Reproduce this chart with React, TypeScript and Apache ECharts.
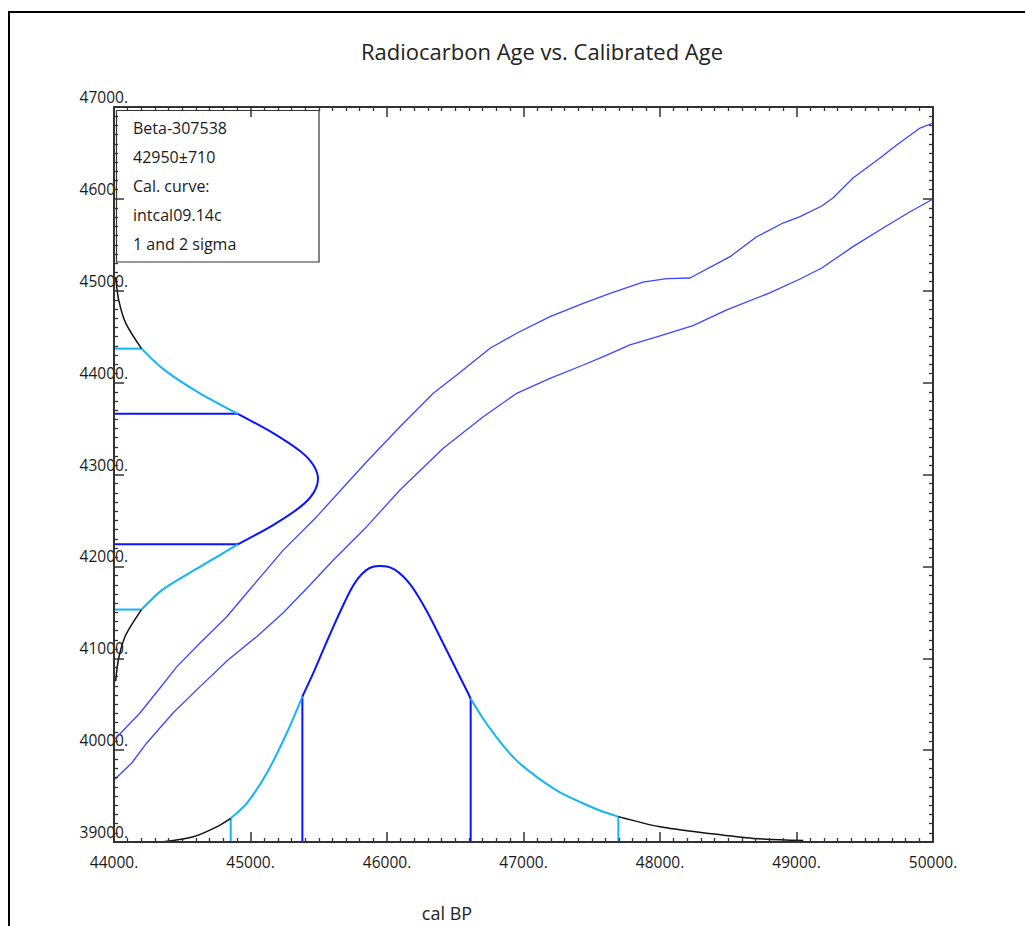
import React, { useEffect, useRef } from "react";
import * as echarts from "echarts";

// ---- axes ----
const xTicks = [44000, 45000, 46000, 47000, 48000, 49000, 50000];
const yTicks = [39000, 40000, 41000, 42000, 43000, 44000, 45000, 46000, 47000];

// ---- calibration curve (upper / lower band), cal BP vs 14C age ----
const upperCalAge = [44000, 44190, 44337, 44459, 44630, 44826, 45004, 45240, 45485, 45729, 45851, 46095, 46339, 46511, 46755, 46950, 47194, 47438, 47634, 47875, 48049, 48220, 48513, 48708, 48901, 49026, 49185, 49267, 49414, 49612, 49734, 49905, 50000];
const upperC14Age = [40110, 40404, 40676, 40906, 41166, 41452, 41765, 42177, 42541, 42940, 43139, 43520, 43884, 44083, 44374, 44537, 44718, 44863, 44972, 45095, 45131, 45139, 45371, 45588, 45737, 45806, 45922, 46010, 46227, 46445, 46586, 46771, 46826];
const lowerCalAge = [44000, 44130, 44240, 44432, 44630, 44835, 45045, 45238, 45436, 45607, 45851, 46095, 46412, 46705, 46950, 47194, 47438, 47585, 47780, 48000, 48242, 48489, 48808, 49026, 49185, 49414, 49634, 49832, 50000];
const lowerC14Age = [39675, 39860, 40078, 40404, 40691, 40981, 41235, 41493, 41797, 42070, 42432, 42831, 43285, 43629, 43884, 44047, 44192, 44282, 44410, 44508, 44620, 44791, 44979, 45128, 45248, 45480, 45683, 45860, 45999];

// ---- calibrated probability (bottom) ----
const calAge = [44361, 44581, 44752, 44855, 44972, 45119, 45265, 45380, 45458, 45531, 45604, 45678, 45736, 45788, 45846, 45897, 45949, 46000, 46059, 46117, 46176, 46234, 46293, 46352, 46410, 46469, 46527, 46586, 46613, 46696, 46777, 46864, 46952, 47048, 47158, 47267, 47414, 47560, 47695, 48000, 48342, 48684, 49050];
const calProb = [0.001, 0.019, 0.055, 0.086, 0.14, 0.249, 0.394, 0.527, 0.61, 0.694, 0.777, 0.857, 0.915, 0.955, 0.984, 0.997, 1.0, 0.998, 0.986, 0.963, 0.93, 0.886, 0.835, 0.779, 0.721, 0.663, 0.605, 0.547, 0.519, 0.453, 0.396, 0.341, 0.294, 0.254, 0.214, 0.18, 0.145, 0.114, 0.092, 0.055, 0.032, 0.013, 0.005];
const cal1Sigma = [45380, 46613];
const cal2Sigma = [44855, 47695];

// ---- radiocarbon probability (left) ----
const c14Age = [40750, 41000, 41250, 41530, 41750, 42000, 42240, 42450, 42650, 42800, 42950, 43100, 43250, 43450, 43660, 43900, 44150, 44370, 44650, 44900, 45150];
const c14Prob = [0.008, 0.023, 0.057, 0.135, 0.24, 0.425, 0.607, 0.78, 0.915, 0.978, 1.0, 0.978, 0.915, 0.78, 0.607, 0.409, 0.24, 0.135, 0.057, 0.023, 0.008];
const c14OneSigma = [42240, 43660];
const c14TwoSigma = [41530, 44370];

const legendLines = ["Beta-307538", "42950\u00b1710", "Cal. curve:", "intcal09.14c", "1 and 2 sigma"];
const titleText = "Radiocarbon Age vs. Calibrated Age";
const xAxisName = "cal BP";

const BLUE = "#0a14ff";
const CYAN = "#14b4f5";
const CURVE = "#3c46ff";
const FONT = "'Open Sans', 'Noto Sans', sans-serif";

function pairs(a: number[], b: number[]) {
  return a.map((v, i) => [v, b[i]]);
}
function seg(xs: number[], ps: number[], lo: number, hi: number, swap: boolean) {
  const out: number[][] = [];
  xs.forEach((x, i) => {
    if (x >= lo && x <= hi) out.push(swap ? [ps[i], x] : [x, ps[i]]);
  });
  return out;
}
function probAt(xs: number[], ps: number[], x: number) {
  const i = xs.indexOf(x);
  return i >= 0 ? ps[i] : 0;
}

export default function App() {
  const ref = useRef<HTMLDivElement>(null);
  useEffect(() => {
    if (!ref.current) return;
    const chart = echarts.init(ref.current, undefined, { renderer: "svg" });
    const axisLine = { show: true, onZero: false, lineStyle: { color: "#333", width: 2 } };
    const axisTick = { show: true, inside: true, length: 10, lineStyle: { color: "#333", width: 1.5 } };
    const minorTick = { show: true, splitNumber: 10, length: 4, lineStyle: { color: "#333", width: 1.3 } };
    const noLine = { show: false };
    const labelStyle = { fontFamily: FONT, fontSize: 15.5, color: "#1a1a1a" };
    const xr = { min: xTicks[0], max: xTicks[xTicks.length - 1], interval: 1000 };
    const yr = { min: yTicks[0], max: yTicks[yTicks.length - 1], interval: 1000 };

    const line = (data: number[][], color: string, width: number, xi: number, yi: number, smooth: boolean | number = false, z = 2) => ({
      type: "line",
      data,
      xAxisIndex: xi,
      yAxisIndex: yi,
      symbol: "none",
      showSymbol: false,
      smooth,
      silent: true,
      z,
      lineStyle: { color, width },
    });

    // axis indices: x0 = cal BP, x2 = left-curve probability; y0 = 14C age, y2 = bottom-curve probability
    const S = 0.3;
    const series: any[] = [
      line(pairs(upperCalAge, upperC14Age), CURVE, 1.3, 0, 0),
      line(pairs(lowerCalAge, lowerC14Age), CURVE, 1.3, 0, 0),
      // bottom calibrated distribution
      line(seg(calAge, calProb, 0, cal2Sigma[0], false), "#111", 1.5, 0, 2, S, 3),
      line(seg(calAge, calProb, cal2Sigma[0], cal1Sigma[0], false), CYAN, 2, 0, 2, S, 3),
      line(seg(calAge, calProb, cal1Sigma[0], cal1Sigma[1], false), BLUE, 2, 0, 2, S, 3),
      line(seg(calAge, calProb, cal1Sigma[1], cal2Sigma[1], false), CYAN, 2, 0, 2, S, 3),
      line(seg(calAge, calProb, cal2Sigma[1], 99999, false), "#111", 1.5, 0, 2, S, 3),
      // left radiocarbon distribution
      line(seg(c14Age, c14Prob, 0, c14TwoSigma[0], true), "#111", 1.5, 2, 0, S, 3),
      line(seg(c14Age, c14Prob, c14TwoSigma[0], c14OneSigma[0], true), CYAN, 2, 2, 0, S, 3),
      line(seg(c14Age, c14Prob, c14OneSigma[0], c14OneSigma[1], true), BLUE, 2, 2, 0, S, 3),
      line(seg(c14Age, c14Prob, c14OneSigma[1], c14TwoSigma[1], true), CYAN, 2, 2, 0, S, 3),
      line(seg(c14Age, c14Prob, c14TwoSigma[1], 99999, true), "#111", 1.5, 2, 0, S, 3),
    ];
    cal2Sigma.forEach((x) => series.push(line([[x, 0], [x, probAt(calAge, calProb, x)]], CYAN, 2, 0, 2)));
    cal1Sigma.forEach((x) => series.push(line([[x, 0], [x, probAt(calAge, calProb, x)]], BLUE, 2, 0, 2)));
    c14TwoSigma.forEach((y) => series.push(line([[0, y], [probAt(c14Age, c14Prob, y), y]], CYAN, 2, 2, 0)));
    c14OneSigma.forEach((y) => series.push(line([[0, y], [probAt(c14Age, c14Prob, y), y]], BLUE, 2, 2, 0)));

    const graphic: any[] = [
      { type: "rect", shape: { x: 9, y: 12, width: 1100, height: 1100 }, style: { fill: "none", stroke: "#000", lineWidth: 2 }, silent: true, z: 0 },
      { type: "text", x: 542, y: 51, style: { text: titleText, fontFamily: FONT, fontSize: 22, fill: "#222", textAlign: "center", textVerticalAlign: "middle" } },
      { type: "text", x: 447, y: 913, style: { text: xAxisName, fontFamily: FONT, fontSize: 18, fill: "#222", textAlign: "center", textVerticalAlign: "middle" } },
      { type: "rect", shape: { x: 116.5, y: 110.5, width: 202.5, height: 151.5 }, style: { fill: "#fff", stroke: "#333", lineWidth: 1.2 }, z: 10 },
    ];
    legendLines.forEach((t, i) => {
      graphic.push({ type: "text", x: 133, y: 128 + i * 29, z: 11, style: { text: t, fontFamily: FONT, fontSize: 16, fill: "#1a1a1a", textAlign: "left", textVerticalAlign: "middle" } });
    });

    const grid = { left: 114, right: 92, top: 107, bottom: 84, containLabel: false };

    chart.setOption({
      animation: false,
      backgroundColor: "#fff",
      grid: [grid, { ...grid }],
      xAxis: [
        { type: "value", gridIndex: 0, position: "bottom", ...xr, axisLine, axisTick, minorTick, splitLine: noLine, z: 20,
          axisLabel: { ...labelStyle, margin: 12, formatter: (v: number) => v + "." } },
        { type: "value", gridIndex: 1, position: "top", ...xr, axisLine, axisTick, minorTick, splitLine: noLine, axisLabel: noLine, z: 20 },
        { type: "value", gridIndex: 0, min: 0, max: 4.015, show: false },
      ],
      yAxis: [
        { type: "value", gridIndex: 0, position: "left", ...yr, axisLine: noLine, axisTick: noLine, minorTick: noLine, splitLine: noLine, z: 0,
          axisLabel: { ...labelStyle, margin: -14, align: "right", verticalAlign: "bottom", padding: [0, 0, 2, 0], formatter: (v: number) => v + "." } },
        { type: "value", gridIndex: 0, position: "right", ...yr, axisLine, axisTick, minorTick, splitLine: noLine, axisLabel: noLine, z: 20 },
        { type: "value", gridIndex: 0, min: 0, max: 2.663, show: false },
        { type: "value", gridIndex: 1, position: "left", ...yr, axisLine, axisTick, minorTick, splitLine: noLine, axisLabel: noLine, z: 20 },
      ],
      series,
      graphic,
    });
    return () => chart.dispose();
  }, []);
  return <div ref={ref} style={{ position: "absolute", left: 0, top: 0, width: 1025, height: 926 }} />;
}
